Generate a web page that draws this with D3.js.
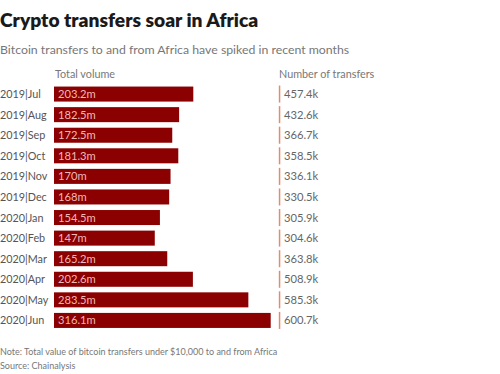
<!DOCTYPE html>
<html>
<head>
<meta charset="utf-8">
<script src="https://cdn.jsdelivr.net/npm/d3@7"></script>
<style>
  body { margin: 0; background: #fff; }
  svg { display: block; font-family: Lato, "Open Sans", sans-serif; }
</style>
</head>
<body>
<svg id="chart" width="500" height="374"></svg>
<script>
const categories = ["2019|Jul","2019|Aug","2019|Sep","2019|Oct","2019|Nov","2019|Dec","2020|Jan","2020|Feb","2020|Mar","2020|Apr","2020|May","2020|Jun"];
const volume = [203.2,182.5,172.5,181.3,170,168,154.5,147,165.2,202.6,283.5,316.1];
const volumeLabels = ["203.2m","182.5m","172.5m","181.3m","170m","168m","154.5m","147m","165.2m","202.6m","283.5m","316.1m"];
const transfers = ["457.4k","432.6k","366.7k","358.5k","336.1k","330.5k","305.9k","304.6k","363.8k","508.9k","585.3k","600.7k"];

const svg = d3.select("#chart");

svg.append("text").attr("x", 0).attr("y", 27)
  .attr("font-size", 19.2).attr("font-weight", 800).attr("fill", "#1a1a1a")
  .text("Crypto transfers soar in Africa");
svg.append("text").attr("x", 0).attr("y", 54)
  .attr("font-size", 12.3).attr("fill", "#777")
  .text("Bitcoin transfers to and from Africa have spiked in recent months");

const y = d3.scaleBand().domain(categories).range([84.5, 330]).paddingInner(0.27).paddingOuter(0.1);
const x = d3.scaleLinear().domain([0, 316.1]).range([54, 270.7]);

svg.append("text").attr("x", 55).attr("y", 78).attr("font-size", 10.8).attr("fill", "#777").text("Total volume");
svg.append("text").attr("x", 279).attr("y", 78).attr("font-size", 10.8).attr("fill", "#777").text("Number of transfers");

const rows = svg.append("g").selectAll("g").data(categories).join("g");

rows.append("text").attr("x", 0).attr("y", d => y(d) + y.bandwidth() / 2 + 4)
  .attr("font-size", 10.8).attr("fill", "#555").text(d => d);

rows.append("rect")
  .attr("x", x(0)).attr("y", d => y(d))
  .attr("width", (d, i) => x(volume[i]) - x(0))
  .attr("height", y.bandwidth())
  .attr("fill", "#8b0000");

rows.append("text").attr("x", x(0) + 4).attr("y", d => y(d) + y.bandwidth() / 2 + 4)
  .attr("font-size", 11.2).attr("fill", "#f0b8b8").text((d, i) => volumeLabels[i]);

rows.append("rect")
  .attr("x", 278.8).attr("width", 1.5)
  .attr("y", d => y(d) - 1).attr("height", y.bandwidth() + 2)
  .attr("fill", "#e58a70");

rows.append("text").attr("x", 284).attr("y", d => y(d) + y.bandwidth() / 2 + 4)
  .attr("font-size", 11.2).attr("fill", "#666").text((d, i) => transfers[i]);

svg.append("text").attr("x", 0).attr("y", 355).attr("font-size", 9).attr("fill", "#777")
  .text("Note: Total value of bitcoin transfers under $10,000 to and from Africa");
svg.append("text").attr("x", 0).attr("y", 369).attr("font-size", 9).attr("fill", "#777")
  .text("Source: Chainalysis");
</script>
</body>
</html>
